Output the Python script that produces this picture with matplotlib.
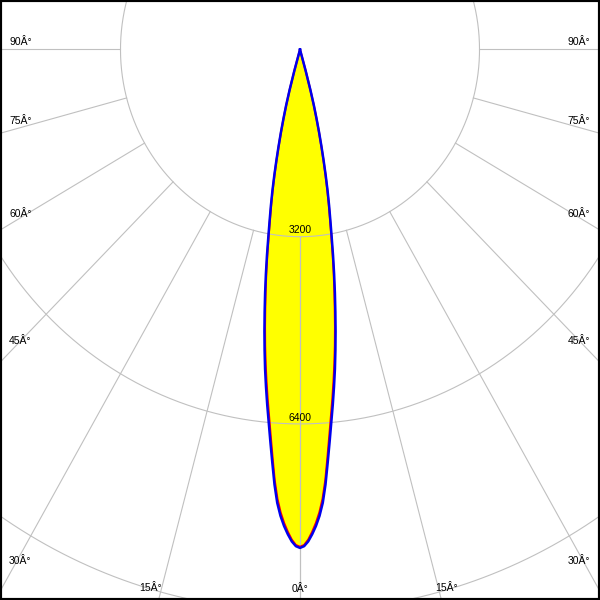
import numpy as np
import matplotlib
matplotlib.use("Agg")
from matplotlib import pyplot as plt

# luminous intensity (cd) vs gamma angle (deg from nadir)
gamma = [0, 0.5, 1, 1.5, 2, 2.5, 3, 3.5, 4, 4.5, 5, 5.5, 6, 6.5, 7, 7.5, 8, 8.5,
         9, 9.5, 10, 10.5, 11, 11.5, 12, 12.5, 13, 13.5, 14, 14.5, 15, 15.5, 16]
i_c90 = [8520, 8490, 8410, 8290, 8150, 7980, 7760, 7450, 7080, 6730, 6400, 6100,
         5800, 5500, 5180, 4860, 4530, 4210, 3890, 3570, 3250, 2970, 2720, 2470,
         2210, 1950, 1700, 1460, 1220, 990, 720, 380, 0]
i_c0 = [8500, 8470, 8380, 8250, 8100, 7920, 7690, 7380, 7000, 6640, 6310, 6010,
        5710, 5410, 5100, 4780, 4450, 4140, 3830, 3510, 3200, 2920, 2680, 2430,
        2180, 1920, 1670, 1440, 1200, 970, 700, 370, 0]

rings = [3200, 6400, 9600]
ring_labels = ["3200", "6400"]
spoke_angles = [0, 15, 30, 45, 60, 75, 90]

# angle labels (text, x px, y px, alignment)
angle_labels = [
    ("90Â°", 9, 42, "left"), ("75Â°", 9, 121.5, "left"), ("60Â°", 9, 214.5, "left"),
    ("45Â°", 9, 341.5, "left"), ("30Â°", 9, 560.5, "left"),
    ("90Â°", 590, 42, "right"), ("75Â°", 590, 121.5, "right"), ("60Â°", 590, 214.5, "right"),
    ("45Â°", 590, 341.5, "right"), ("30Â°", 590, 560.5, "right"),
    ("15Â°", 151, 588, "center"), ("0Â°", 300, 588.5, "center"), ("15Â°", 447, 588, "center"),
]

plt.rcParams['font.family'] = ['Liberation Sans', 'DejaVu Sans']

fig = plt.figure(figsize=(6, 6), dpi=100)
ax = fig.add_axes([0, 0, 1, 1])
ax.set_xlim(-5348, 5348)
ax.set_ylim(-9410, 846)
ax.set_xticks([])
ax.set_yticks([])
for s in ax.spines.values():
    s.set_linewidth(3)
    s.set_color("black")

grid_col = "#c0c0c0"


def curve(vals):
    g = np.radians(np.array(gamma))
    r = np.array(vals, dtype=float)
    x = np.concatenate([-(r * np.sin(g))[::-1], (r * np.sin(g))[1:]])
    y = np.concatenate([-(r * np.cos(g))[::-1], -(r * np.cos(g))[1:]])
    return x, y


bx, by = curve(i_c90)
rx, ry = curve(i_c0)
ax.fill(bx, by, color="#ffff00", zorder=1, lw=0)

# grid
t = np.linspace(0, 2 * np.pi, 720)
for r in rings:
    ax.plot(r * np.cos(t), r * np.sin(t), color=grid_col, lw=0.8, zorder=2)
for a in spoke_angles:
    for sgn in (-1, 1):
        ar = np.radians(a)
        ax.plot([sgn * rings[0] * np.sin(ar), sgn * 20000 * np.sin(ar)],
                [-rings[0] * np.cos(ar), -20000 * np.cos(ar)],
                color=grid_col, lw=0.8, zorder=2)

ax.plot(rx, ry, color="red", lw=1.5, zorder=3, solid_joinstyle="round")
ax.plot(bx, by, color="#0000ee", lw=1.8, zorder=4, solid_joinstyle="round")

for lab, r in zip(ring_labels, rings):
    ax.annotate(lab, (0, -r), xytext=(0, 4.5), textcoords="offset points",
                ha="center", va="center", fontsize=7.5, zorder=5)

for txt, px, py, ha in angle_labels:
    fig.text(px / 600, 1 - py / 600, txt, ha=ha, va="center", fontsize=7.5)

fig.savefig("out.png", dpi=100)
